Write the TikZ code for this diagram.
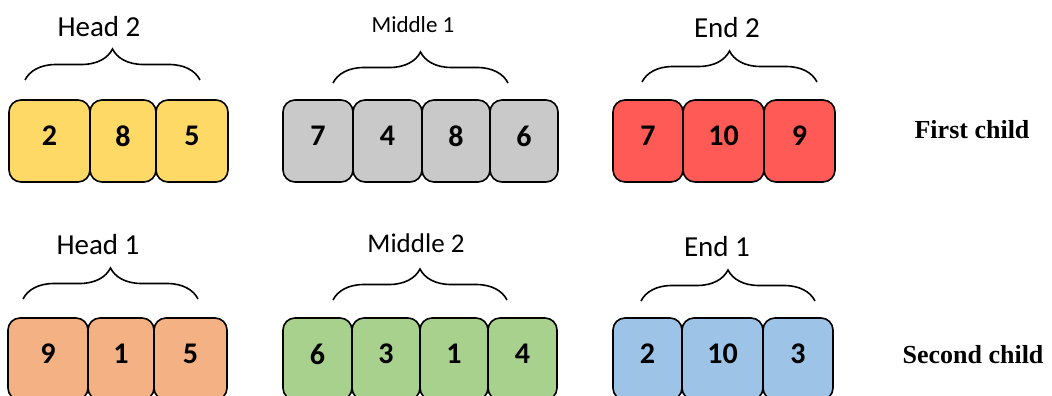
\documentclass[tikz,border=0pt]{standalone}
\usepackage{fontspec}
\setmainfont{Carlito}
\newfontfamily\timesfont{Liberation Serif}
\usetikzlibrary{positioning,decorations.pathreplacing}

\definecolor{headtwo}{HTML}{FFD966}
\definecolor{midone}{HTML}{C9C9C9}
\definecolor{endtwo}{HTML}{FF5A55}
\definecolor{headone}{HTML}{F4B183}
\definecolor{midtwo}{HTML}{A9D18E}
\definecolor{endone}{HTML}{9DC3E6}

\tikzset{
    cell/.style={draw, line width=1.6pt, rounded corners=12pt, minimum height=82pt,
        outer sep=0pt, inner sep=0pt, text depth=10pt, font=\fontsize{30}{30}\selectfont\bfseries},
    part/.style={font=\fontsize{29}{29}\selectfont},
    bracket/.style={decorate, decoration={brace, amplitude=31pt}, line width=1.6pt},
    child/.style={font=\fontsize{26}{26}\selectfont\timesfont\bfseries}
}

\begin{document}
\begin{tikzpicture}[x=1pt, y=-1pt]
\useasboundingbox (0,0) rectangle (1052,396);

% first child
\node[cell, fill=headtwo, minimum width=81pt, anchor=west] (h2a) at (9,141) {2};
\node[cell, fill=headtwo, minimum width=66pt, right=0pt of h2a] (h2b) {8};
\node[cell, fill=headtwo, minimum width=72pt, right=0pt of h2b] (h2c) {5};

\node[cell, fill=midone, minimum width=70pt, anchor=west] (m1a) at (283,141) {7};
\node[cell, fill=midone, minimum width=69pt, right=0pt of m1a] (m1b) {4};
\node[cell, fill=midone, minimum width=68pt, right=0pt of m1b] (m1c) {8};
\node[cell, fill=midone, minimum width=68pt, right=0pt of m1c] (m1d) {6};

\node[cell, fill=endtwo, minimum width=70pt, anchor=west] (e2a) at (613,141) {7};
\node[cell, fill=endtwo, minimum width=81pt, right=0pt of e2a] (e2b) {10};
\node[cell, fill=endtwo, minimum width=71pt, right=0pt of e2b] (e2c) {9};

\draw[bracket] (25,80) -- (200,80);
\draw[bracket] (333,83) -- (508,83);
\draw[bracket] (642,82) -- (817,82);
\node[part] (head2) at (99,27) {Head 2};
\node[font=\fontsize{23}{23}\selectfont] (middle1) at (413,25) {Middle 1};
\node[part] (end2) at (727,28) {End 2};
\node[child] (first) at (972,130) {First child};

% second child
\node[cell, fill=headone, minimum width=80pt, anchor=west] (h1a) at (8,359) {9};
\node[cell, fill=headone, minimum width=66pt, right=0pt of h1a] (h1b) {1};
\node[cell, fill=headone, minimum width=73pt, right=0pt of h1b] (h1c) {5};

\node[cell, fill=midtwo, minimum width=69pt, anchor=west] (m2a) at (283,359) {6};
\node[cell, fill=midtwo, minimum width=68pt, right=0pt of m2a] (m2b) {3};
\node[cell, fill=midtwo, minimum width=68pt, right=0pt of m2b] (m2c) {1};
\node[cell, fill=midtwo, minimum width=69pt, right=0pt of m2c] (m2d) {4};

\node[cell, fill=endone, minimum width=69pt, anchor=west] (e1a) at (613,359) {2};
\node[cell, fill=endone, minimum width=81pt, right=0pt of e1a] (e1b) {10};
\node[cell, fill=endone, minimum width=70pt, right=0pt of e1b] (e1c) {3};

\draw[bracket] (23,299) -- (198,299);
\draw[bracket] (333,300) -- (507,300);
\draw[bracket] (641,301) -- (815,301);
\node[part] (head1) at (98,245) {Head 1};
\node[font=\fontsize{27}{27}\selectfont] (middle2) at (416,243) {Middle 2};
\node[part] (end1) at (717,247) {End 1};
\node[child] (second) at (973,355) {Second child};
\end{tikzpicture}
\end{document}
